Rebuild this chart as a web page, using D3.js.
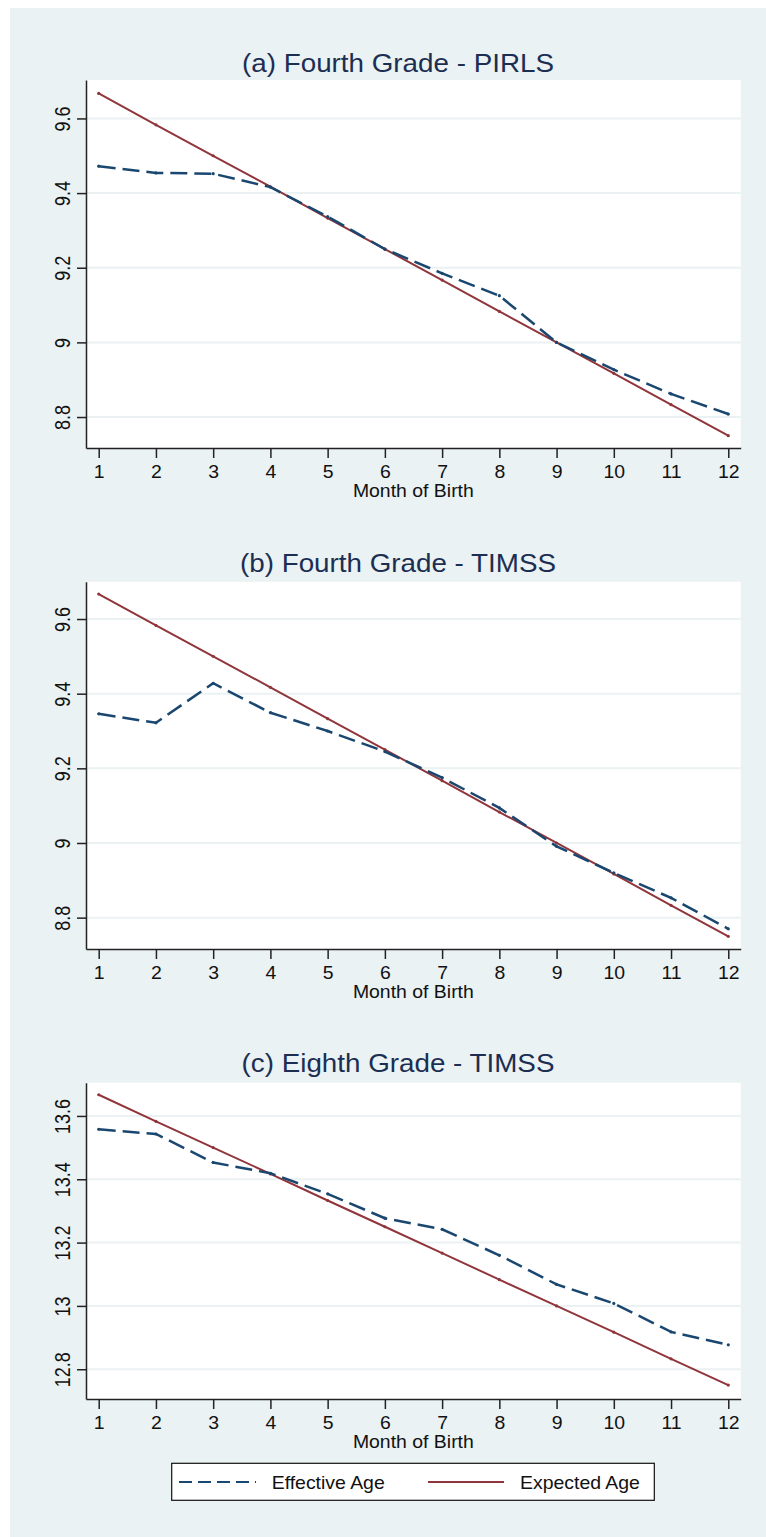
<!DOCTYPE html>
<html>
<head>
<meta charset="utf-8">
<script src="https://cdn.jsdelivr.net/npm/d3@7"></script>
<style>
  body { margin: 0; background: #fff; }
  svg text { font-family: "Liberation Sans", Arial, sans-serif; }
</style>
</head>
<body>
<svg id="main" width="766" height="1537"></svg>
<script>
// month of birth, shared by all three panels
var months = [1, 2, 3, 4, 5, 6, 7, 8, 9, 10, 11, 12];

// (a) Fourth Grade - PIRLS
var effectiveA = [9.472, 9.454, 9.452, 9.416, 9.337, 9.250, 9.185, 9.125, 9.000, 8.927, 8.862, 8.808];
var expectedA  = [9.667, 9.583, 9.500, 9.417, 9.333, 9.250, 9.167, 9.083, 9.000, 8.917, 8.833, 8.750];
// (b) Fourth Grade - TIMSS
var effectiveB = [9.346, 9.322, 9.428, 9.349, 9.300, 9.245, 9.175, 9.094, 8.991, 8.920, 8.853, 8.770];
var expectedB  = [9.667, 9.583, 9.500, 9.417, 9.333, 9.250, 9.167, 9.083, 9.000, 8.917, 8.833, 8.750];
// (c) Eighth Grade - TIMSS
var effectiveC = [13.558, 13.543, 13.453, 13.419, 13.354, 13.277, 13.242, 13.160, 13.068, 13.008, 12.918, 12.877];
var expectedC  = [13.667, 13.583, 13.500, 13.417, 13.333, 13.250, 13.167, 13.083, 13.000, 12.917, 12.833, 12.750];

var yTicksFourth = [8.8, 9, 9.2, 9.4, 9.6];
var yTicksEighth = [12.8, 13, 13.2, 13.4, 13.6];

var titles = ["(a) Fourth Grade - PIRLS", "(b) Fourth Grade - TIMSS", "(c) Eighth Grade - TIMSS"];
var xLabel = "Month of Birth";
var seriesNames = ["Effective Age", "Expected Age"];

var navy = "#1a476f", maroon = "#90353b", bg = "#eaf2f3";

var svg = d3.select("#main");
svg.append("rect").attr("x", 10).attr("y", 8).attr("width", 756).attr("height", 1529).attr("fill", bg);

var panels = [
  {title: titles[0], eff: effectiveA, exp: expectedA, ticks: yTicksFourth, dom: [8.717, 9.703], top: 80,    bottom: 448, tb: 72},
  {title: titles[1], eff: effectiveB, exp: expectedB, ticks: yTicksFourth, dom: [8.716, 9.700], top: 581.7, bottom: 949, tb: 572},
  {title: titles[2], eff: effectiveC, exp: expectedC, ticks: yTicksEighth, dom: [12.706, 13.705], top: 1082.7, bottom: 1399, tb: 1072}
];

var left = 86, right = 740.7, width = right - left;
var xScale = d3.scaleLinear().domain([0.778, 12.217]).range([0, width]);

panels.forEach(function(p) {
  var height = p.bottom - p.top;
  var yScale = d3.scaleLinear().domain(p.dom).range([height, 0]);

  svg.append("text")
    .attr("transform", "translate(398," + p.tb + ") scale(1.09,1)")
    .attr("text-anchor", "middle")
    .attr("font-size", 25.5)
    .attr("fill", "#1c2e52")
    .text(p.title);

  var g = svg.append("g").attr("transform", "translate(" + left + "," + p.top + ")");
  g.append("rect").attr("width", width).attr("height", height).attr("fill", "#fff");

  g.selectAll(".grid").data(p.ticks).enter().append("line")
    .attr("x1", 0).attr("x2", width)
    .attr("y1", function(d) { return yScale(d); })
    .attr("y2", function(d) { return yScale(d); })
    .attr("stroke", bg).attr("stroke-width", 2);

  var xAxis = g.append("g")
    .attr("transform", "translate(0," + height + ")")
    .call(d3.axisBottom(xScale).tickValues(months).tickSize(10).tickSizeOuter(0));
  xAxis.selectAll("text")
    .attr("y", 30).attr("dy", null)
    .attr("transform", "scale(1.08,1)")
    .attr("font-size", 18).attr("fill", "#111");

  var yAxis = g.append("g")
    .call(d3.axisLeft(yScale).tickValues(p.ticks).tickSize(9).tickSizeOuter(0)
      .tickFormat(function(d) { return String(+d.toFixed(1)); }));
  yAxis.selectAll("text")
    .attr("x", null).attr("dy", null)
    .attr("text-anchor", "middle")
    .attr("transform", "translate(-16,0) rotate(-90) scale(1,1.2)")
    .attr("font-size", 18).attr("fill", "#111");

  g.selectAll(".domain, .tick line").attr("stroke", "#222").attr("stroke-width", 1.5);

  g.append("text")
    .attr("transform", "translate(" + width / 2 + "," + (height + 49) + ") scale(1.08,1)")
    .attr("text-anchor", "middle")
    .attr("font-size", 18).attr("fill", "#111")
    .text(xLabel);

  var line = d3.line()
    .x(function(d, i) { return xScale(months[i]); })
    .y(function(d) { return yScale(d); });

  g.append("path").attr("d", line(p.exp))
    .attr("fill", "none").attr("stroke", maroon).attr("stroke-width", 2);
  g.selectAll(".mexp").data(p.exp).enter().append("circle")
    .attr("cx", function(d, i) { return xScale(months[i]); })
    .attr("cy", function(d) { return yScale(d); })
    .attr("r", 1.6).attr("fill", maroon);

  g.append("path").attr("d", line(p.eff))
    .attr("fill", "none").attr("stroke", navy).attr("stroke-width", 2.5)
    .attr("stroke-dasharray", "17,7");
  g.selectAll(".meff").data(p.eff).enter().append("circle")
    .attr("cx", function(d, i) { return xScale(months[i]); })
    .attr("cy", function(d) { return yScale(d); })
    .attr("r", 1.6).attr("fill", navy);
});

// legend
var lg = svg.append("g");
lg.append("rect").attr("x", 171.7).attr("y", 1463.3).attr("width", 482.6).attr("height", 37)
  .attr("fill", "#fff").attr("stroke", "#111").attr("stroke-width", 1.2);
lg.append("line").attr("x1", 179).attr("x2", 256).attr("y1", 1482).attr("y2", 1482)
  .attr("stroke", navy).attr("stroke-width", 2).attr("stroke-dasharray", "13,6");
lg.append("line").attr("x1", 428).attr("x2", 504).attr("y1", 1482).attr("y2", 1482)
  .attr("stroke", maroon).attr("stroke-width", 2);
lg.append("text").attr("transform", "translate(271.7,1489) scale(1.08,1)")
  .attr("font-size", 18).attr("fill", "#111").text(seriesNames[0]);
lg.append("text").attr("transform", "translate(520,1489) scale(1.08,1)")
  .attr("font-size", 18).attr("fill", "#111").text(seriesNames[1]);
</script>
</body>
</html>
